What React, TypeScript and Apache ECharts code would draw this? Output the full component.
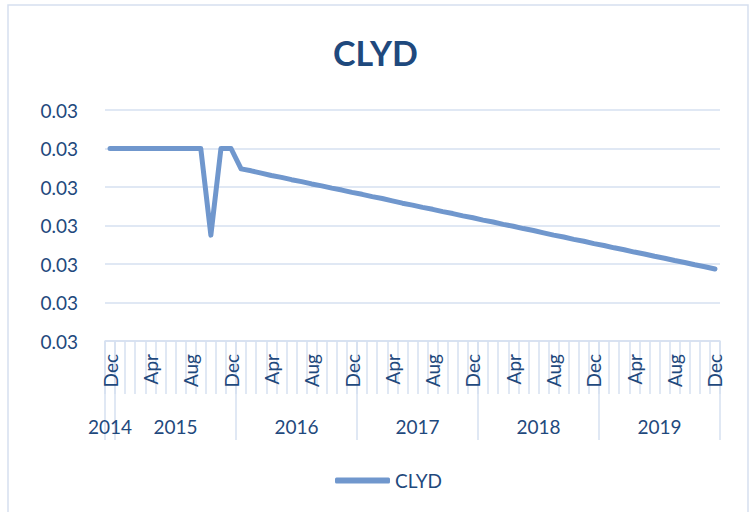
import React, { useEffect, useRef } from "react";
import * as echarts from "echarts";

const monthNames = ["Jan", "Feb", "Mar", "Apr", "May", "Jun", "Jul", "Aug", "Sep", "Oct", "Nov", "Dec"];
const years = [2014, 2015, 2016, 2017, 2018, 2019];

// Categories: Dec 2014 .. Dec 2019 (monthly)
const categories: string[] = ["2014-Dec"];
for (const y of years.slice(1)) for (const m of monthNames) categories.push(`${y}-${m}`);

const yearLabelIndex: Record<number, string> = { 0: "2014", 6: "2015", 18: "2016", 30: "2017", 42: "2018", 54: "2019" };
const yearBoundaryIndex = [0, 1, 13, 25, 37, 49];

const clydValues = [
  // Dec 2014 - Dec 2015
  0.0305, 0.0305, 0.0305, 0.0305, 0.0305, 0.0305, 0.0305, 0.0305, 0.0305, 0.0305, 0.030275, 0.0305, 0.0305,
  // 2016
  0.030447, 0.030442, 0.030436, 0.03043, 0.030425, 0.030419, 0.030414, 0.030408, 0.030403, 0.030397, 0.030392, 0.030386,
  // 2017
  0.030381, 0.030375, 0.03037, 0.030364, 0.030358, 0.030353, 0.030347, 0.030342, 0.030336, 0.030331, 0.030325, 0.03032,
  // 2018
  0.030314, 0.030309, 0.030303, 0.030298, 0.030292, 0.030287, 0.030281, 0.030275, 0.03027, 0.030264, 0.030259, 0.030253,
  // 2019
  0.030248, 0.030242, 0.030237, 0.030231, 0.030226, 0.03022, 0.030215, 0.030209, 0.030204, 0.030198, 0.030193, 0.030187,
];

const FONT = "Lato";
const TEXT = "#1F497D";
const GRID = "#D6E0F0";
const LINE = "#7097CD";

export default function App() {
  const ref = useRef<HTMLDivElement>(null);
  useEffect(() => {
    if (!ref.current) return;
    const chart = echarts.init(ref.current, null, { renderer: "svg" });
    chart.setOption({
      animation: false,
      backgroundColor: "#ffffff",
      textStyle: { fontFamily: FONT },
      graphic: [
        {
          type: "rect",
          shape: { x: 8, y: 5, width: 740, height: 520 },
          style: { fill: "none", stroke: "#D6E0F0", lineWidth: 1.5 },
          silent: true,
        },
      ],
      title: {
        text: "CLYD",
        left: "center",
        top: 30,
        textStyle: { fontFamily: FONT, fontWeight: "bold", fontSize: 34, color: "#1F497D" },
      },
      legend: {
        left: 330,
        top: 466,
        icon: "roundRect",
        itemWidth: 55,
        itemHeight: 6,
        itemGap: 6,
        itemStyle: { color: LINE, borderWidth: 0 },
        textStyle: { fontFamily: FONT, fontSize: 19, color: TEXT, padding: [0, 0, 0, 0] },
        data: [{ name: "CLYD" }],
      },
      grid: { left: 105, right: 31, top: 110, bottom: 171, containLabel: false },
      xAxis: [
        {
          type: "category",
          data: categories,
          boundaryGap: true,
          axisLine: { show: true, lineStyle: { color: GRID, width: 1.5 } },
          axisTick: { show: true, interval: 0, length: 53, lineStyle: { color: GRID, width: 1.5 } },
          axisLabel: {
            interval: 3,
            rotate: 90,
            margin: 13,
            fontFamily: FONT,
            fontSize: 19,
            color: TEXT,
            formatter: (v: string) => v.split("-")[1],
          },
          splitLine: { show: false },
        },
        {
          type: "category",
          data: categories,
          position: "bottom",
          boundaryGap: true,
          axisLine: { show: false },
          axisTick: {
            show: true,
            interval: (i: number) => yearBoundaryIndex.includes(i),
            length: 99,
            lineStyle: { color: GRID, width: 1.5 },
          },
          axisLabel: {
            interval: (i: number) => yearLabelIndex[i] !== undefined,
            margin: 76,
            fontFamily: FONT,
            fontSize: 19,
            color: TEXT,
            formatter: (_v: string, i: number) => (i === 0 ? `{a|${yearLabelIndex[i]}}` : `{b|${yearLabelIndex[i]}}`),
            rich: {
              a: { fontFamily: FONT, fontSize: 19, color: TEXT },
              b: { fontFamily: FONT, fontSize: 19, color: TEXT, padding: [0, 0, 0, 10] },
            },
          },
          splitLine: { show: false },
        },
      ],
      yAxis: {
        type: "value",
        min: 0.03,
        max: 0.0306,
        interval: 0.0001,
        axisLine: { show: false },
        axisTick: { show: false },
        axisLabel: {
          margin: 27,
          fontFamily: FONT,
          fontSize: 19,
          color: TEXT,
          formatter: (v: number) => v.toFixed(2),
        },
        splitLine: { show: true, lineStyle: { color: GRID, width: 1.5 } },
      },
      series: [
        {
          name: "CLYD",
          type: "line",
          xAxisIndex: 0,
          data: clydValues,
          symbol: "none",
          lineStyle: { color: LINE, width: 5, cap: "round", join: "round" },
          itemStyle: { color: LINE },
        },
      ],
    });
    return () => chart.dispose();
  }, []);
  return <div ref={ref} style={{ position: "absolute", left: 0, top: 0, width: 751, height: 512 }} />;
}
